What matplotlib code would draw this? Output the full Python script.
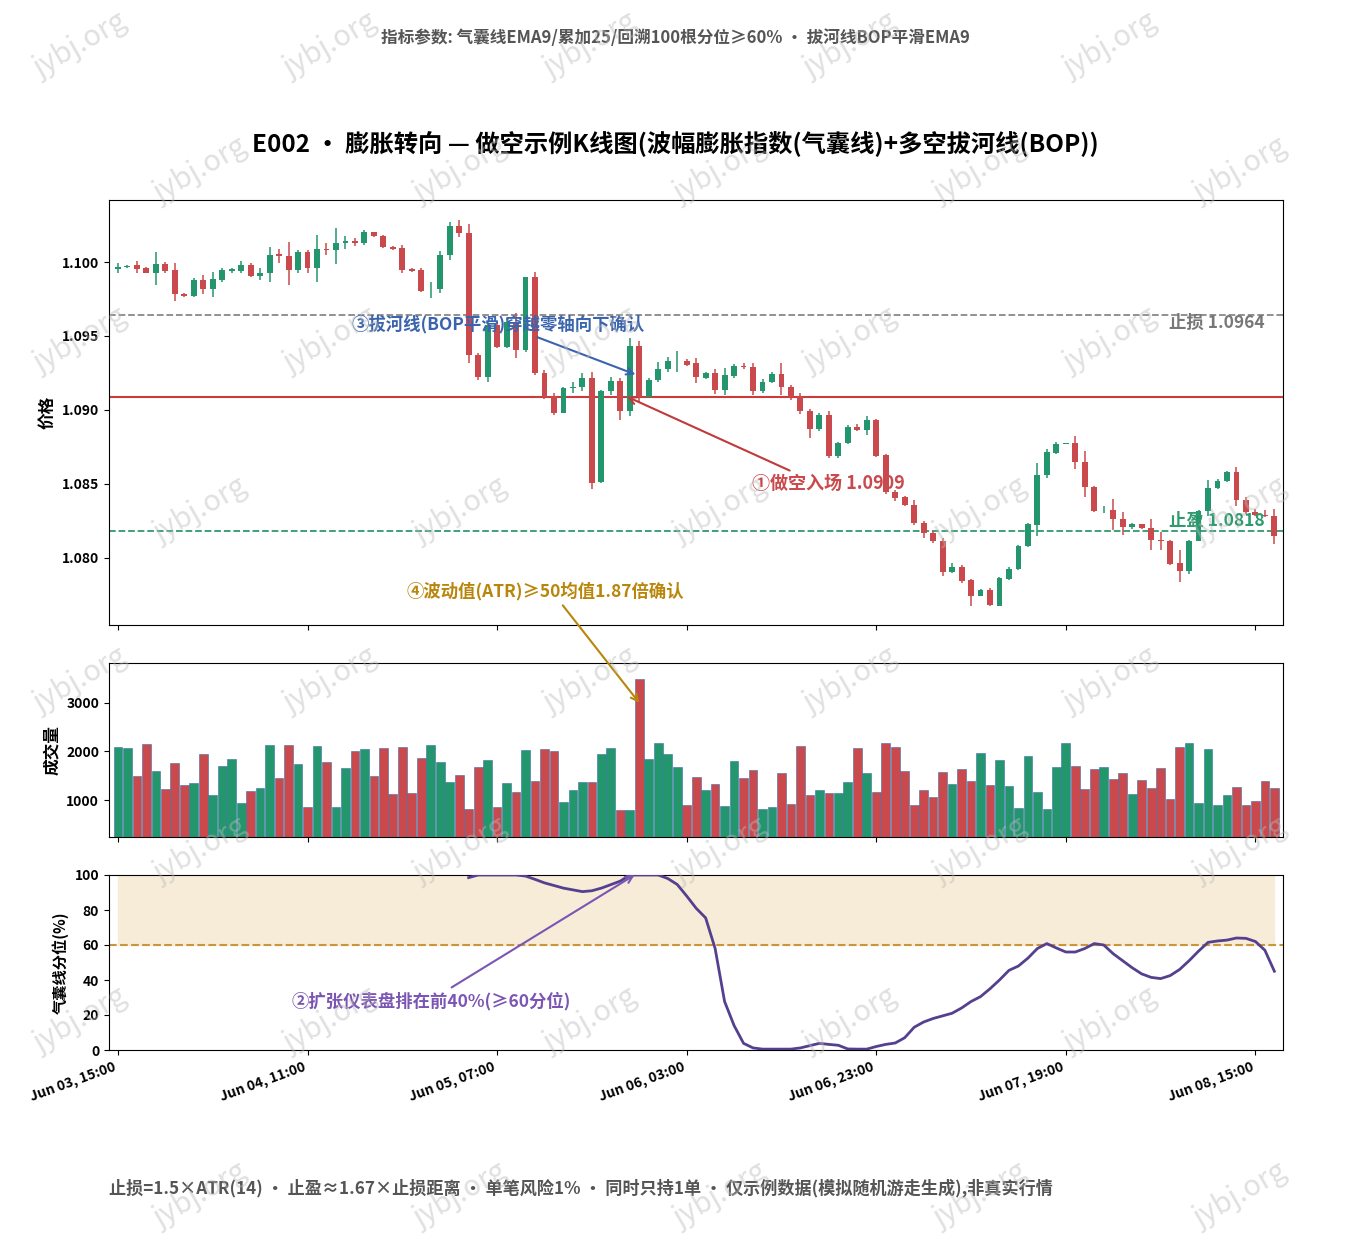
import numpy as np
import matplotlib
matplotlib.use("Agg")
import matplotlib.pyplot as plt

plt.rcParams['font.family'] = ['Noto Sans CJK SC', 'DejaVu Sans']
plt.rcParams['axes.unicode_minus'] = False

BASE = 1.1000
open_pips = [-4.7,-3.6,-2.3,-4.1,-7.2,-1.4,-5.4,-21.6,-23.0,-12.2,
 -18.0,-12.2,-5.9,-6.1,-2.0,-9.2,-7.7,5.2,4.1,-5.4,
 6.5,-4.3,8.6,8.1,12.6,14.4,12.6,20.0,17.6,9.9,
 9.2,-5.0,-5.4,-18.5,-18.5,4.7,24.3,19.8,-62.8,-77.4,
 -42.5,-57.2,-40.3,-59.4,-10.4,-74.7,-90.5,-101.7,-85.3,-84.2,
 -78.5,-149.0,-86.9,-80.3,-100.4,-56.7,-90.9,-79.7,-72.5,-67.1,
 -67.1,-68.4,-78.1,-74.7,-86.4,-76.7,-70.2,-70.7,-86.9,-81.2,
 -75.6,-84.6,-90.5,-101.0,-113.0,-103.3,-131.4,-122.4,-111.2,-113.4,
 -107.1,-130.5,-155.7,-159.1,-164.5,-176.4,-183.2,-188.3,-209.7,-206.1,
 -215.1,-225.9,-221.9,-232.2,-214.2,-207.5,-192.2,-177.5,-143.8,-129.2,
 -122.9,-122.4,-135.2,-152.1,-167.9,-167.4,-173.7,-179.1,-177.1,-179.8,
 -187.7,-188.3,-203.4,-209.0,-188.3,-168.5,-152.8,-148.3,-142.0,-160.7,
 -168.8,-170.8,-171.5]
close_pips = [-3.6,-2.7,-4.5,-7.2,-1.4,-6.1,-21.8,-22.7,-12.2,-18.0,
 -11.7,-5.4,-5.0,-2.0,-9.2,-7.7,4.7,4.1,-5.4,6.5,
 -4.3,8.6,8.1,13.1,14.4,12.6,20.5,17.6,9.9,8.8,
 -5.4,-5.9,-19.4,-18.0,4.7,24.3,19.8,-62.8,-77.4,-42.5,
 -57.2,-40.3,-59.4,-10.4,-74.7,-90.9,-101.7,-85.3,-84.2,-78.5,
 -149.4,-86.9,-80.3,-100.4,-56.7,-91.4,-79.7,-72.5,-67.1,-66.6,
 -69.3,-77.4,-75.2,-86.4,-76.7,-70.2,-71.1,-86.9,-81.2,-75.6,
 -84.6,-90.9,-101.0,-113.0,-103.3,-131.4,-122.4,-111.2,-113.4,-107.1,
 -131.0,-155.7,-159.5,-164.5,-176.4,-183.2,-188.3,-209.7,-206.1,-215.8,
 -225.9,-221.9,-231.5,-213.5,-207.2,-191.7,-177.1,-143.8,-128.5,-122.9,
 -122.6,-135.2,-152.3,-168.5,-167.4,-173.7,-179.1,-177.1,-179.8,-188.1,
 -188.3,-203.9,-209.0,-188.3,-168.5,-152.8,-147.8,-142.0,-161.1,-169.2,
 -170.8,-171.5,-185.4]
high_pips = [-0.5,-2.0,0.7,-3.6,7.0,0.2,-0.9,-20.7,-11.0,-8.8,
 -6.5,-4.3,-4.3,0.7,-0.9,-4.3,9.9,8.6,13.7,8.1,
 8.1,18.2,12.6,22.7,17.6,16.0,21.6,20.5,18.2,10.8,
 11.5,-4.3,-4.3,-13.3,7.7,27.2,28.4,25.7,-61.7,-40.3,
 -40.3,-38.0,-34.7,-9.9,-6.5,-72.9,-88.2,-84.2,-80.8,-75.2,
 -74.0,-86.4,-77.9,-78.5,-51.5,-53.1,-78.5,-67.3,-63.9,-59.9,
 -65.7,-65.0,-74.0,-72.5,-71.6,-68.9,-68.0,-68.0,-79.2,-74.0,
 -68.4,-83.0,-88.7,-99.5,-102.2,-100.6,-121.3,-110.0,-109.4,-104.4,
 -106.2,-129.6,-153.9,-158.4,-161.1,-175.3,-182.0,-186.5,-203.4,-204.5,
 -214.2,-221.0,-220.3,-212.9,-206.3,-191.0,-176.4,-135.9,-126.5,-121.7,
 -122.4,-117.9,-128.0,-151.2,-165.2,-160.1,-169.2,-176.4,-176.9,-173.7,
 -182.7,-188.1,-194.9,-187.7,-167.4,-147.2,-146.7,-140.9,-138.6,-158.9,
 -167.0,-167.9,-166.8]
low_pips = [-7.7,-4.3,-7.2,-7.7,-15.5,-7.7,-26.3,-23.4,-23.9,-21.6,
 -23.4,-13.3,-7.7,-7.2,-9.9,-12.2,-13.3,-0.9,-15.5,-7.7,
 -7.7,-13.3,4.7,-1.4,8.6,10.8,11.5,16.7,9.2,8.1,
 -7.2,-6.5,-20.0,-24.5,-21.2,1.4,16.7,-68.4,-79.7,-80.8,
 -58.3,-58.3,-65.0,-60.5,-76.3,-92.7,-103.3,-102.2,-88.7,-87.5,
 -153.5,-149.4,-89.8,-107.1,-104.4,-94.3,-90.9,-80.8,-74.0,-74.0,
 -70.2,-81.5,-79.2,-89.1,-89.8,-78.5,-72.5,-89.8,-88.7,-81.9,
 -89.8,-93.2,-102.6,-119.0,-113.9,-132.5,-132.5,-122.9,-114.5,-116.8,
 -131.9,-156.6,-161.8,-165.2,-177.5,-186.5,-189.9,-212.0,-210.2,-216.9,
 -232.2,-225.9,-232.7,-232.2,-214.7,-207.9,-192.6,-184.9,-145.9,-129.6,
 -123.1,-139.9,-158.9,-168.9,-169.7,-180.9,-184.3,-180.5,-180.5,-194.4,
 -194.4,-204.5,-216.0,-210.6,-188.8,-171.9,-153.5,-149.0,-164.6,-170.1,
 -171.9,-172.4,-190.4]
volume = [2084,2063,1494,2145,1597,1226,1754,1302,1343,1940,
 1103,1700,1844,931,1185,1240,2125,1446,2125,1741,
 856,2104,1775,856,1651,2001,2043,1494,2063,1123,
 2084,1137,1857,2125,1775,1363,1508,815,1672,1823,
 856,1343,1158,2022,1384,2043,2001,952,1206,1363,
 1363,1940,2063,787,787,3483,1844,2166,1940,1672,
 890,1473,1206,1329,876,1802,1453,1617,815,856,
 1555,917,2104,1103,1206,1137,1137,1370,2063,1555,
 1164,2166,2084,1597,897,1206,1068,1569,1329,1638,
 1384,1960,1309,1823,1288,842,1905,1164,815,1679,
 2166,1700,1226,1638,1679,1432,1555,1123,1411,1247,
 1658,1020,2084,2166,931,2043,897,1103,1267,897,
 979,1391,1247]
pct_start = 37
pct_values = [98.5,100,100,100,100,100,99.4,97.5,95.5,94,
 92.5,91.5,90.5,91,92.5,94.5,96.5,100,100,100,
 100,98,94.6,88,81,75.5,58,27.7,14,3.8,
 1.2,0.5,0.5,0.5,0.5,1.2,2.5,3.8,3.2,2.7,
 0.6,0.5,0.5,2,3.2,4,7,13,16,18,
 19.5,21,24,27.7,30.5,35,40,45.5,48,52.5,
 58,60.8,58.3,56,56,58,60.8,60,55,51,
 47,43.5,41.5,40.8,42.5,46,51,56.5,61.5,62.3,
 62.8,64,63.8,62,57,45]
tick_idx = [0, 20, 40, 60, 80, 100, 120]
tick_labels = ["Jun 03, 15:00", "Jun 04, 11:00", "Jun 05, 07:00", "Jun 06, 03:00",
               "Jun 06, 23:00", "Jun 07, 19:00", "Jun 08, 15:00"]
stop_price = 1.0964
entry_price = 1.0909
tp_price = 1.0818
entry_idx = 55

o = BASE + np.array(open_pips) / 1e4
c = BASE + np.array(close_pips) / 1e4
h = BASE + np.array(high_pips) / 1e4
l = BASE + np.array(low_pips) / 1e4
n = len(o)
x = np.arange(n)
vol = np.array(volume, dtype=float)
pct = np.full(n, np.nan)
pct[pct_start:pct_start + len(pct_values)] = pct_values

GREEN = '#23966e'
RED = '#c9494c'
up = c >= o
cols = np.where(up, GREEN, RED)

fig = plt.figure(figsize=(13.5, 12.5), dpi=100)
L, W = 0.0807, 0.8696
ax1 = fig.add_axes([L, 0.50, W, 0.34])
ax2 = fig.add_axes([L, 0.3304, W, 0.1392], sharex=ax1)
ax3 = fig.add_axes([L, 0.16, W, 0.14], sharex=ax1)

# candles
ax1.vlines(x, l, h, colors=cols, linewidth=1.1, zorder=2)
ax1.bar(x, np.abs(c - o) + 1e-6, bottom=np.minimum(o, c), width=0.62, color=cols, zorder=3)
ax1.set_ylim(1.07547, 1.10419)
ax1.set_yticks([1.080, 1.085, 1.090, 1.095, 1.100])
ax1.set_yticklabels([f"{v:.3f}" for v in [1.080, 1.085, 1.090, 1.095, 1.100]])
ax1.axhline(stop_price, color='#888888', ls='--', lw=1.3, zorder=1)
ax1.axhline(entry_price, color='#cc3b3b', ls='-', lw=1.5, zorder=1)
ax1.axhline(tp_price, color='#2e9a6e', ls='--', lw=1.3, zorder=1)
ax1.text(121.0, stop_price - 0.0005, f"止损 {stop_price:.4f}", color='#777777', fontsize=12.5,
         fontweight='bold', ha='right', va='center')
ax1.text(121.0, tp_price + 0.0007, f"止盈 {tp_price:.4f}", color='#2e9a6e', fontsize=12.5,
         fontweight='bold', ha='right', va='center')
ax1.set_ylabel("价格", fontsize=12, fontweight='bold')

ax1.annotate("①做空入场 1.0909", xy=(entry_idx - 1.3, entry_price), xytext=(75, 1.0850),
             color='#c9494c', fontsize=13, fontweight='bold', ha='center', va='center',
             arrowprops=dict(arrowstyle='->', color='#c0393b', lw=1.5, shrinkB=0,
                             relpos=(0.3, 1.0)))
ax1.annotate("③拔河线(BOP平滑)穿越零轴向下确认", xy=(54.6, 1.0924), xytext=(40.1, 1.0958),
             color='#3a64ad', fontsize=12.5, fontweight='bold', ha='center', va='center',
             arrowprops=dict(arrowstyle='->', color='#3a64ad', lw=1.5, shrinkB=0,
                             relpos=(0.6, 0.0)))

# volume
ax2.bar(x, vol, width=0.92, color=cols, edgecolor='#3a6fa8', linewidth=0.4)
ax2.set_ylim(240, 3820)
ax2.set_yticks([1000, 2000, 3000])
ax2.set_ylabel("成交量", fontsize=12, fontweight='bold')
ax2.annotate("④波动值(ATR)≥50均值1.87倍确认", xy=(entry_idx, 3000),
             xytext=(545, 1250 - 591), textcoords='figure pixels',
             color='#b8860b', fontsize=12.5, fontweight='bold', ha='center', va='center',
             arrowprops=dict(arrowstyle='->', color='#b8860b', lw=1.5, shrinkB=0,
                             relpos=(0.55, 0.0)), annotation_clip=False)

# percentile
ax3.fill_between([0, n - 1], 60, 100, color='#f7ecd7', zorder=0)
ax3.axhline(60, color='#c9963c', ls='--', lw=1.5, zorder=1)
ax3.plot(x, pct, color='#55408f', lw=2, zorder=3)
ax3.set_ylim(0, 100)
ax3.set_yticks([0, 20, 40, 60, 80, 100])
ax3.set_ylabel("气囊线分位(%)", fontsize=11, fontweight='bold')
ax3.annotate("②扩张仪表盘排在前40%(≥60分位)", xy=(54.5, 100), xytext=(33, 28),
             color='#7b55b3', fontsize=12.5, fontweight='bold', ha='center', va='center',
             arrowprops=dict(arrowstyle='->', color='#7b55b3', lw=1.5, shrinkB=0,
                             relpos=(0.55, 1.0)))

ax1.set_xlim(-0.95, 122.9)
for ax in (ax1, ax2, ax3):
    ax.set_xticks(tick_idx)
    ax.tick_params(axis='both', labelsize=10)
    for lab in ax.get_yticklabels():
        lab.set_fontweight('bold')
plt.setp(ax1.get_xticklabels(), visible=False)
plt.setp(ax2.get_xticklabels(), visible=False)
ax3.set_xticklabels(tick_labels, rotation=20, ha='right', fontsize=10, fontweight='bold')

fig.text(0.5, 1 - 144 / 1250, "E002 • 膨胀转向 — 做空示例K线图(波幅膨胀指数(气囊线)+多空拔河线(BOP))",
         ha='center', va='center', fontsize=17.5, fontweight='bold')
fig.text(0.5, 1 - 38 / 1250, "指标参数: 气囊线EMA9/累加25/回溯100根分位≥60% • 拔河线BOP平滑EMA9",
         ha='center', va='center', fontsize=12, fontweight='bold', color='#555555')
fig.text(109 / 1350, 1 - 1188 / 1250,
         "止损=1.5×ATR(14) • 止盈≈1.67×止损距离 • 单笔风险1% • 同时只持1单 • 仅示例数据(模拟随机游走生成),非真实行情",
         ha='left', va='center', fontsize=12.3, fontweight='bold', color='#555555')

# watermarks
for row, yy in enumerate([45, 170, 340, 510, 680, 850, 1020, 1195]):
    xs = [80, 330, 590, 850, 1110] if row % 2 == 0 else [200, 460, 720, 980, 1240]
    for xx in xs:
        fig.text(xx / 1350, 1 - yy / 1250, "jybj.org", rotation=30, fontsize=21,
                 color='#bbbbbb', alpha=0.45, ha='center', va='center', zorder=10)

fig.savefig("out.png", dpi=100)
